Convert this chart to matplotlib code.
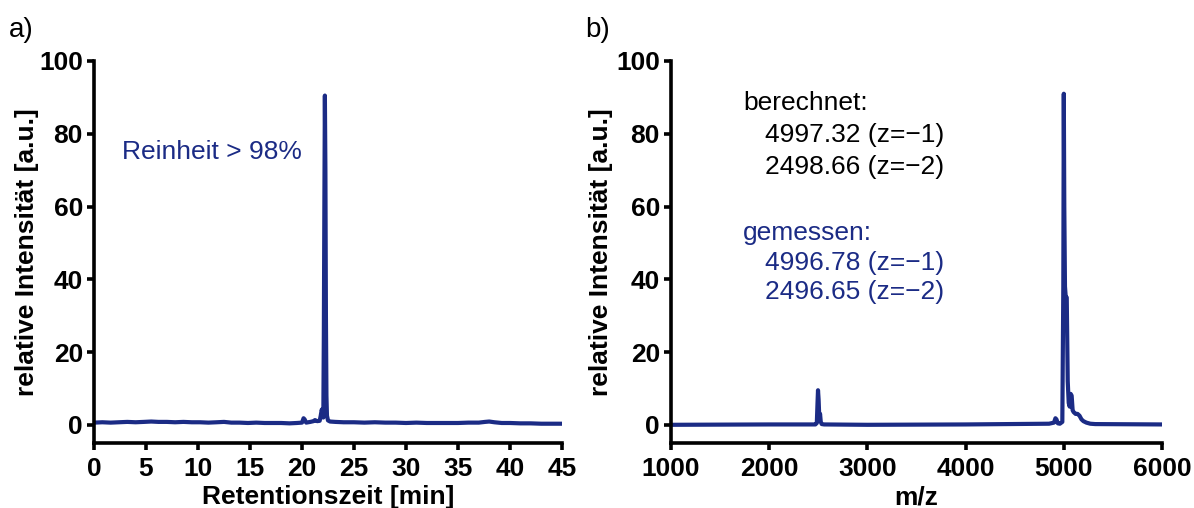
import matplotlib
matplotlib.use("Agg")
import matplotlib.pyplot as plt

plt.rcParams['font.family'] = ['Liberation Sans', 'DejaVu Sans']

BLUE = '#1b2b85'

# HPLC chromatogram (a)
hplc_time = [0.0, 0.8, 1.6, 2.4, 3.2, 4.0, 4.8, 5.5, 6.2, 7.0, 7.8, 8.6, 9.4, 10.2,
             11.0, 11.8, 12.5, 13.2, 14.0, 14.8, 15.6, 16.4, 17.2, 18.0, 18.8, 19.5,
             20.0, 20.15, 20.25, 20.4, 20.8, 21.1, 21.25, 21.45, 21.7, 21.8, 21.9,
             22.0, 22.05, 22.1, 22.15, 22.2, 22.25, 22.3, 22.35, 22.4, 22.5, 22.7,
             23.2, 24.0, 25.0, 26.0, 27.0, 28.0, 29.0, 30.0, 31.0, 32.0, 33.0, 34.0,
             35.0, 36.0, 37.0, 37.6, 38.0, 38.5, 39.2, 40.0, 41.0, 42.0, 43.0, 44.0, 45.0]
hplc_signal = [0.6, 0.7, 0.6, 0.7, 0.8, 0.7, 0.8, 0.9, 0.8, 0.8, 0.7, 0.8, 0.7, 0.7,
               0.6, 0.7, 0.8, 0.6, 0.6, 0.5, 0.6, 0.5, 0.5, 0.5, 0.4, 0.5,
               0.6, 1.8, 1.5, 0.6, 0.8, 1.0, 1.3, 1.0, 1.1, 2.5, 4.2,
               3.0, 2.0, 25.0, 60.0, 90.5, 70.0, 30.0, 8.0, 2.5, 1.2, 0.9,
               0.8, 0.7, 0.7, 0.6, 0.7, 0.6, 0.6, 0.5, 0.6, 0.5, 0.5, 0.5,
               0.5, 0.6, 0.6, 0.8, 0.9, 0.7, 0.5, 0.5, 0.4, 0.4, 0.3, 0.3, 0.3]

# MS spectrum (b)
ms_mz = [1000, 2000, 2470, 2485, 2492, 2497, 2503, 2510, 2518, 2525, 2535, 2560,
         3000, 4000, 4850, 4900, 4915, 4925, 4940, 4960, 4985, 4995, 5000, 5005,
         5012, 5020, 5030, 5040, 5050, 5060, 5070, 5080, 5090, 5100, 5120, 5140,
         5160, 5180, 5200, 5230, 5270, 5320, 6000]
ms_intensity = [0.0, 0.1, 0.1, 0.5, 6.0, 9.5, 7.0, 2.0, 3.0, 0.8, 0.2, 0.1,
                0.0, 0.1, 0.3, 0.6, 1.8, 1.5, 0.4, 0.3, 0.8, 38.0, 91.0, 60.0,
                38.0, 35.0, 35.0, 12.0, 6.0, 5.0, 8.5, 8.0, 4.0, 3.5, 3.0, 3.0,
                2.5, 1.5, 1.0, 0.6, 0.3, 0.2, 0.1]

fig = plt.figure(figsize=(11.94, 5.08), dpi=100)
ax1 = fig.add_axes([94/1194, 65/508, 468/1194, 382/508])
ax2 = fig.add_axes([671/1194, 65/508, 491/1194, 382/508])

for ax in (ax1, ax2):
    for side in ('top', 'right'):
        ax.spines[side].set_visible(False)
    for side in ('left', 'bottom'):
        ax.spines[side].set_linewidth(2.6)
    ax.tick_params(width=2.6, length=5, labelsize=19)
    ax.tick_params(axis='x', pad=5)
    ax.tick_params(axis='y', pad=3)
    ax.set_ylim(-5, 100)
    ax.set_yticks([0, 20, 40, 60, 80, 100])

ax1.plot(hplc_time, hplc_signal, color=BLUE, lw=3.0, solid_joinstyle='round')
ax1.set_xlim(0, 45)
ax1.set_xticks(range(0, 46, 5))
ax1.set_xlabel('Retentionszeit [min]', fontsize=19, fontweight='bold', labelpad=3)
ax1.set_ylabel('relative Intensität [a.u.]', fontsize=19, fontweight='bold', labelpad=0)
ax1.text(2.7, 75, 'Reinheit > 98%', color=BLUE, fontsize=19, va='center')

ax2.plot(ms_mz, ms_intensity, color=BLUE, lw=3.0, solid_joinstyle='round')
ax2.set_xlim(1000, 6000)
ax2.set_xticks(range(1000, 6001, 1000))
ax2.set_xlabel('m/z', fontsize=19, fontweight='bold', labelpad=3)
ax2.set_ylabel('relative Intensität [a.u.]', fontsize=19, fontweight='bold', labelpad=2)

for ax in (ax1, ax2):
    for lab in ax.get_xticklabels() + ax.get_yticklabels():
        lab.set_fontweight('bold')

ax2.text(1733, 88.4, 'berechnet:', color='black', fontsize=19, va='center')
ax2.text(1957, 79.6, '4997.32 (z=\u22121)', color='black', fontsize=19, va='center')
ax2.text(1957, 70.8, '2498.66 (z=\u22122)', color='black', fontsize=19, va='center')
ax2.text(1733, 52.6, 'gemessen:', color=BLUE, fontsize=19, va='center')
ax2.text(1957, 44.4, '4996.78 (z=\u22121)', color=BLUE, fontsize=19, va='center')
ax2.text(1957, 36.4, '2496.65 (z=\u22122)', color=BLUE, fontsize=19, va='center')

fig.text(9/1194, 1 - 30/508, 'a)', fontsize=20, va='center', ha='left')
fig.text(585/1194, 1 - 30/508, 'b)', fontsize=20, va='center', ha='left')

fig.savefig('out.png', dpi=100)
